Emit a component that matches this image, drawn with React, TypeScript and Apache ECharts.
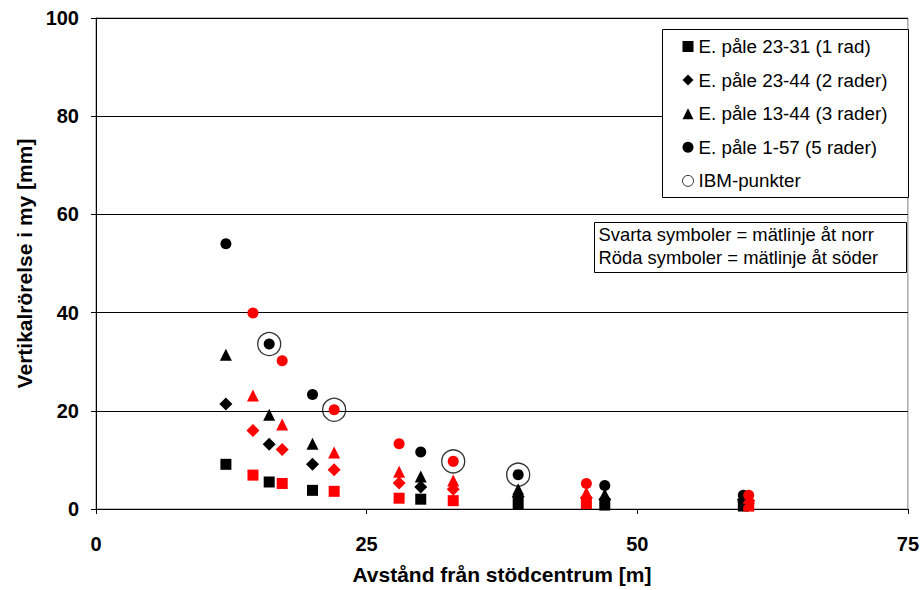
import React, { useEffect, useRef } from "react";
import * as echarts from "echarts";

const RED = "#ff0000";
const BLACK = "#000000";

// [x, y] pairs
const sqBlack = [[12, 9.1], [16, 5.5], [20, 3.8], [30, 2.0], [39, 1.1], [47, 0.8], [59.8, 0.6]];
const sqRed = [[14.5, 6.9], [17.2, 5.2], [22, 3.6], [28, 2.2], [33, 1.7], [45.3, 1.1], [60.3, 0.6]];
const diBlack = [[12, 21.4], [16, 13.2], [20, 9.1], [30, 4.5], [39, 2.5], [47, 2.0], [59.8, 1.9]];
const diRed = [[14.5, 16.0], [17.2, 12.1], [22, 8.0], [28, 5.3], [33, 4.0], [45.3, 2.3], [60.3, 1.7]];
const trBlack = [[12, 31.4], [16, 19.2], [20, 13.3], [30, 6.6], [39, 4.0], [47, 3.0], [59.8, 2.6]];
const trRed = [[14.5, 23.1], [17.2, 17.2], [22, 11.5], [28, 7.6], [33, 5.8], [45.3, 3.3], [60.3, 2.3]];
const ciBlack = [[12, 54.0], [16, 33.6], [20, 23.3], [30, 11.6], [39, 7.0], [47, 4.8], [59.8, 2.8]];
const ciRed = [[14.5, 39.9], [17.2, 30.2], [22, 20.2], [28, 13.3], [33, 9.7], [45.3, 5.2], [60.3, 2.8]];
const ibm = [[16, 33.6], [22, 20.2], [33, 9.7], [39, 7.0]];

const seriesNames = [
  "E. påle 23-31 (1 rad)",
  "E. påle 23-44 (2 rader)",
  "E. påle 13-44 (3 rader)",
  "E. påle 1-57 (5 rader)",
  "IBM-punkter",
];
const xTicks = [0, 25, 50, 75];
const yTicks = [0, 20, 40, 60, 80, 100];
const noteLines = ["Svarta symboler = mätlinje åt norr", "Röda symboler = mätlinje åt söder"];

function mix(black: number[][], red: number[][]) {
  return [
    ...black.map((p) => ({ value: p, itemStyle: { color: BLACK } })),
    ...red.map((p) => ({ value: p, itemStyle: { color: RED } })),
  ];
}

export default function App() {
  const ref = useRef<HTMLDivElement>(null);
  useEffect(() => {
    if (!ref.current) return;
    const chart = echarts.init(ref.current, null, { renderer: "svg" });
    const font = "Liberation Sans, Arial, sans-serif";
    const shapes = [
      { data: mix(sqBlack, sqRed), symbol: "rect", size: 11 },
      { data: mix(diBlack, diRed), symbol: "diamond", size: 13 },
      { data: mix(trBlack, trRed), symbol: "triangle", size: 12 },
      { data: mix(ciBlack, ciRed), symbol: "circle", size: 11 },
    ];
    chart.setOption({
      animation: false,
      textStyle: { fontFamily: font },
      grid: {
        left: 96, right: 12, top: 18, bottom: 77,
        show: true, borderColor: "#808080", borderWidth: 1,
      },
      xAxis: {
        type: "value", min: xTicks[0], max: xTicks[xTicks.length - 1], interval: 25,
        name: "Avstånd från stödcentrum [m]", nameLocation: "middle", nameGap: 55,
        nameTextStyle: { fontSize: 21, fontWeight: "bold", color: BLACK, fontFamily: font },
        axisLine: { lineStyle: { color: BLACK, width: 1 } },
        axisTick: { show: true, length: 5, lineStyle: { color: BLACK } },
        axisLabel: { fontSize: 20, fontWeight: "bold", color: BLACK, margin: 25, fontFamily: font },
        splitLine: { show: false },
      },
      yAxis: {
        type: "value", min: yTicks[0], max: yTicks[yTicks.length - 1], interval: 20,
        name: "Vertikalrörelse i my [mm]", nameLocation: "middle", nameGap: 61,
        nameTextStyle: { fontSize: 21, fontWeight: "bold", color: BLACK, fontFamily: font },
        axisLine: { show: true, lineStyle: { color: BLACK, width: 1 } },
        axisTick: { show: true, length: 5, lineStyle: { color: BLACK } },
        axisLabel: { fontSize: 20, fontWeight: "bold", color: BLACK, margin: 17, fontFamily: font },
        splitLine: { show: true, lineStyle: { color: "#000000", width: 1 } },
      },
      legend: {
        orient: "vertical",
        left: 662, top: 29,
        padding: [8, 18, 7, 20],
        itemGap: 14.6,
        itemWidth: 11, itemHeight: 11,
        textStyle: { fontSize: 18.8, lineHeight: 18, color: BLACK, fontFamily: font },
        data: seriesNames.map((n, i) => ({
          name: n,
          itemStyle: i === 4 ? { color: "#ffffff", borderColor: BLACK, borderWidth: 1 } : { color: BLACK },
        })),
        z: 10,
      },
      series: [
        ...shapes.map((s, i) => ({
          type: "scatter",
          name: seriesNames[i],
          symbol: s.symbol,
          symbolSize: s.size,
          itemStyle: { color: BLACK, opacity: 1 },
          data: s.data,
          z: 2,
        })),
        {
          type: "scatter",
          name: seriesNames[4],
          symbol: "circle",
          symbolSize: 23,
          itemStyle: { color: "rgba(0,0,0,0)", borderColor: BLACK, borderWidth: 1.3 },
          data: ibm,
          z: 3,
        },
      ],
      graphic: [
        {
          type: "rect", left: 662, top: 29, z: 5,
          shape: { x: 0, y: 0, width: 246, height: 168 },
          style: { fill: "#ffffff", stroke: BLACK, lineWidth: 1 },
        },
        {
          type: "group",
          left: 594, top: 222,
          children: [
            { type: "rect", shape: { x: 0, y: 0, width: 312, height: 50 }, style: { fill: "#ffffff", stroke: BLACK, lineWidth: 1 } },
            { type: "text", x: 4, y: 12, style: { text: noteLines[0], fontSize: 18.4, fill: BLACK, fontFamily: font, verticalAlign: "middle" } },
            { type: "text", x: 4, y: 35, style: { text: noteLines[1], fontSize: 18.4, fill: BLACK, fontFamily: font, verticalAlign: "middle" } },
          ],
        },
      ],
    });
    return () => chart.dispose();
  }, []);
  return <div ref={ref} style={{ width: 922, height: 590, position: "absolute", left: 0, top: 0 }} />;
}
